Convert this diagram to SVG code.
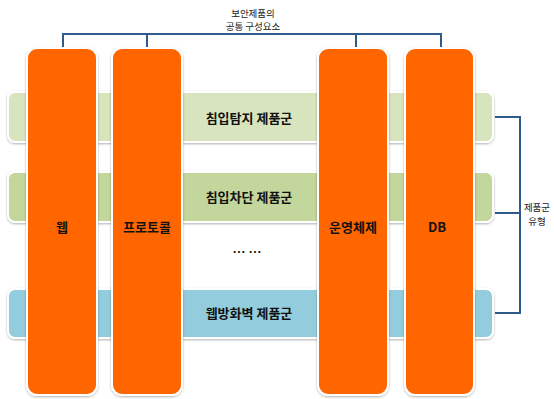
<svg xmlns="http://www.w3.org/2000/svg" width="554" height="399" viewBox="0 0 554 399">
<style>
.band{stroke:#ffffff;stroke-width:2;filter:url(#sh)}
.col{fill:#ff6600;stroke:#ffffff;stroke-width:2;filter:url(#sh)}
.lbl{font-family:"Noto Sans CJK KR","Noto Sans",sans-serif;font-weight:bold;font-size:13px;fill:#111;text-anchor:middle}
.sm{font-family:"Noto Sans CJK KR","Noto Sans",sans-serif;font-size:9.5px;fill:#222;text-anchor:middle}
.con{fill:none;stroke:#2e5a8c;stroke-width:2}
</style>
<defs>
<filter id="sh" x="-10%" y="-10%" width="120%" height="120%">
<feDropShadow dx="0" dy="1" stdDeviation="1" flood-color="#000" flood-opacity="0.3"/>
</filter>
</defs>
<rect width="554" height="399" fill="#ffffff"/>
<g id="band1"><rect class="band" x="8" y="92" width="485" height="50" rx="7" fill="#d7e4bd"/><text class="lbl" x="249" y="123">침입탐지 제품군</text></g>
<g id="band2"><rect class="band" x="8" y="172" width="485" height="50" rx="7" fill="#c3d69b"/><text class="lbl" x="249" y="202">침입차단 제품군</text></g>
<g id="band3"><rect class="band" x="8" y="289" width="485" height="49" rx="7" fill="#93cddd"/><text class="lbl" x="249" y="318">웹방화벽 제품군</text></g>
<g id="dots"><text class="lbl" x="247" y="257">… …</text></g>
<g id="connectors">
<path class="con" d="M63,48 V34 H441 V48 M147,34 V48 M356,34 V48"/>
<path class="con" d="M495,117 H520 V313 H495 M495,213 H520"/>
</g>
<g id="col-web"><rect class="col" x="27" y="48" width="70" height="347" rx="10"/><text class="lbl" x="62" y="232">웹</text></g>
<g id="col-protocol"><rect class="col" x="112" y="48" width="70" height="347" rx="10"/><text class="lbl" x="147" y="232">프로토콜</text></g>
<g id="col-os"><rect class="col" x="318" y="48" width="70" height="347" rx="10"/><text class="lbl" x="353" y="232">운영체제</text></g>
<g id="col-db"><rect class="col" x="405" y="48" width="69" height="347" rx="10"/><text class="lbl" x="437" y="232">DB</text></g>
<g id="top-label"><text class="sm" x="253" y="17">보안제품의</text><text class="sm" x="253" y="30">공통 구성요소</text></g>
<g id="right-label"><text class="sm" x="537" y="211">제품군</text><text class="sm" x="537" y="225">유형</text></g>
</svg>
